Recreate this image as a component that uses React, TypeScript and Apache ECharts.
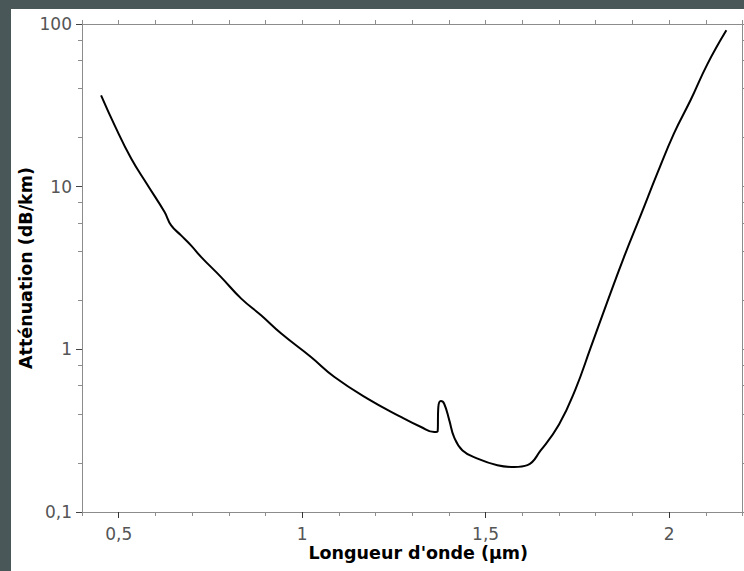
import React, { useEffect, useRef } from "react";
import * as echarts from "echarts";

// Wavelength (µm) and attenuation (dB/km)
const wavelengths = [
  0.452, 0.489, 0.534, 0.579, 0.625, 0.643, 0.67, 0.697, 0.725, 0.779, 0.834,
  0.888, 0.943, 1.024, 1.088, 1.178, 1.269, 1.324, 1.36, 1.369, 1.371, 1.378,
  1.387, 1.401, 1.414, 1.437, 1.478, 1.532, 1.578, 1.614, 1.65, 1.7, 1.745,
  1.786, 1.832, 1.877, 1.923, 1.968, 2.013, 2.059, 2.104, 2.156,
];
const attenuation = [
  36.4, 23.8, 14.9, 10.2, 6.98, 5.78, 5.02, 4.36, 3.69, 2.78, 2.05, 1.62, 1.25,
  0.897, 0.676, 0.498, 0.384, 0.333, 0.31, 0.312, 0.44, 0.481, 0.463, 0.366,
  0.289, 0.239, 0.213, 0.194, 0.189, 0.194, 0.239, 0.345, 0.57, 1.02, 1.97, 3.69,
  6.7, 12.1, 21.2, 34.2, 56.5, 91.4,
];

const xLabelValues = [0.5, 1, 1.5, 2];
const xMinorTicks = [
  0.4, 0.5, 0.6, 0.7, 0.8, 0.9, 1, 1.1, 1.2, 1.3, 1.4, 1.5, 1.6, 1.7, 1.8, 1.9,
  2, 2.1, 2.2,
];
const yLabelValues = [0.1, 1, 10, 100];
const yMinorTicks = [0.2, 0.4, 0.6, 0.8, 2, 4, 6, 8, 20, 40, 60, 80];

const X_MIN = 0.4;
const X_MAX = 2.2;
const Y_MIN = 0.1;
const Y_MAX = 100;

const xTitle = "Longueur d'onde (µm)";
const yTitle = "Atténuation (dB/km)";

const AXIS_GRAY = "#8c8c8c";
const LABEL_GRAY = "#555555";
const FONT = "DejaVu Sans";

const fmt = (v: number) =>
  String(Number(Number(v).toPrecision(6))).replace(".", ",");

export default function App() {
  const ref = useRef<HTMLDivElement>(null);

  useEffect(() => {
    if (!ref.current) return;
    const chart = echarts.init(ref.current, undefined, { renderer: "svg" });

    const titleStyle = {
      fontFamily: FONT,
      fontWeight: "bold" as const,
      fontSize: 17.5,
      color: "#000",
    };

    chart.setOption({
      animation: false,
      backgroundColor: "#4a5758",
      graphic: [
        {
          type: "rect",
          z: -10,
          silent: true,
          shape: { x: 11, y: 9, width: 733, height: 562 },
          style: { fill: "#ffffff" },
        },
      ],
      grid: { left: 82, top: 24, right: 1.5, bottom: 59, containLabel: false },
      xAxis: [
        {
          type: "value",
          position: "bottom",
          min: X_MIN,
          max: X_MAX,
          axisLine: { onZero: false, lineStyle: { color: AXIS_GRAY, width: 1 } },
          axisTick: {
            show: true,
            inside: false,
            length: 4,
            customValues: xMinorTicks,
            lineStyle: { color: AXIS_GRAY },
          },
          axisLabel: {
            customValues: xLabelValues,
            formatter: (v: number) => fmt(v),
            fontFamily: FONT,
            fontSize: 17,
            color: LABEL_GRAY,
            margin: 13,
          },
          splitLine: { show: false },
          name: xTitle,
          nameLocation: "middle",
          nameGap: 32,
          nameMoveOverlap: false,
          nameTextStyle: { ...titleStyle, padding: [0, 0, 0, 12] },
        },
        {
          type: "value",
          position: "bottom",
          min: X_MIN,
          max: X_MAX,
          axisLine: { show: false, onZero: false },
          axisTick: {
            show: true,
            length: 6,
            customValues: xLabelValues,
            lineStyle: { color: "#333" },
          },
          axisLabel: { show: false },
          splitLine: { show: false },
        },
        {
          type: "value",
          position: "top",
          min: X_MIN,
          max: X_MAX,
          axisLine: { onZero: false, lineStyle: { color: AXIS_GRAY, width: 1 } },
          axisTick: {
            show: true,
            length: 4,
            customValues: xMinorTicks,
            lineStyle: { color: AXIS_GRAY },
          },
          axisLabel: { show: false },
          splitLine: { show: false },
        },
      ],
      yAxis: [
        {
          type: "log",
          logBase: 10,
          position: "left",
          min: Y_MIN,
          max: Y_MAX,
          axisLine: { show: true, onZero: false, lineStyle: { color: AXIS_GRAY, width: 1 } },
          axisTick: {
            show: true,
            length: 6,
            customValues: yLabelValues,
            lineStyle: { color: "#444" },
          },
          axisLabel: {
            customValues: yLabelValues,
            formatter: (v: number) => fmt(v),
            fontFamily: FONT,
            fontSize: 17,
            color: LABEL_GRAY,
            margin: 10,
          },
          splitLine: { show: false },
          minorSplitLine: { show: false },
          name: yTitle,
          nameLocation: "middle",
          nameGap: 47,
          nameMoveOverlap: false,
          nameRotate: 90,
          nameTextStyle: titleStyle,
        },
        {
          type: "log",
          logBase: 10,
          position: "left",
          min: Y_MIN,
          max: Y_MAX,
          axisLine: { show: false, onZero: false },
          axisTick: {
            show: true,
            length: 4,
            customValues: yMinorTicks,
            lineStyle: { color: AXIS_GRAY },
          },
          axisLabel: { show: false },
          splitLine: { show: false },
        },
        {
          type: "log",
          logBase: 10,
          position: "right",
          min: Y_MIN,
          max: Y_MAX,
          axisLine: { show: true, onZero: false, lineStyle: { color: AXIS_GRAY, width: 1 } },
          axisTick: {
            show: true,
            length: 4,
            customValues: [...yLabelValues, ...yMinorTicks],
            lineStyle: { color: AXIS_GRAY },
          },
          axisLabel: { show: false },
          splitLine: { show: false },
        },
      ],
      series: [
        {
          type: "line",
          xAxisIndex: 0,
          yAxisIndex: 0,
          data: wavelengths.map((w, i) => [w, attenuation[i]]),
          showSymbol: false,
          smooth: 0.45,
          lineStyle: { color: "#000000", width: 2 },
          z: 5,
        },
      ],
    });

    return () => chart.dispose();
  }, []);

  return (
    <div
      ref={ref}
      style={{ position: "absolute", left: 0, top: 0, width: 744, height: 571 }}
    />
  );
}
